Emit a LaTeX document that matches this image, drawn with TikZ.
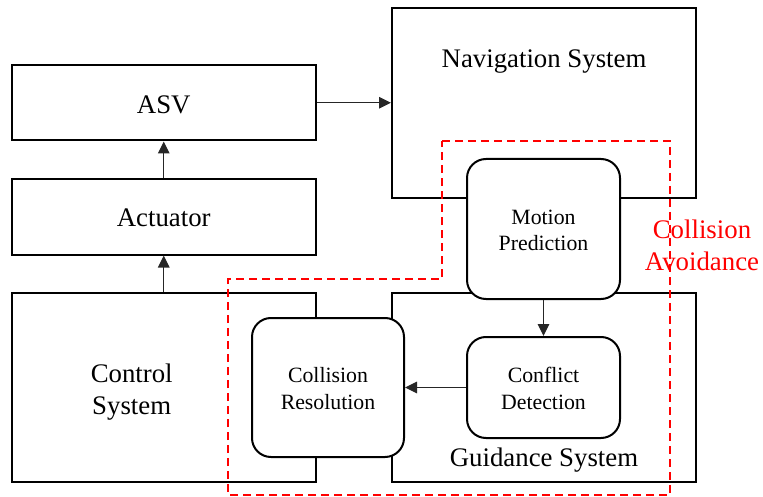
\documentclass[tikz,border=0pt]{standalone}
\usepackage{fontspec}
\setmainfont{Liberation Serif}
\usetikzlibrary{arrows.meta}
\begin{document}
\begin{tikzpicture}[x=1pt,y=-1pt,
  box/.style={draw=black,line width=2pt,fill=white,inner sep=0pt,rectangle},
  rbox/.style={box,rounded corners=19pt},
  big/.style={font=\fontsize{26.8}{32}\selectfont,align=center,inner sep=0pt},
  small/.style={font=\fontsize{21.8}{26.5}\selectfont,align=center,inner sep=0pt},
  conn/.style={draw=black!85,line width=1.2pt,-{Triangle[length=12pt,width=11.5pt]}},
  region/.style={draw=red,line width=2pt,dash pattern=on 8pt off 5pt}]
\useasboundingbox (0,0) rectangle (763,497);
% boxes
\node[box,minimum width=304.5pt,minimum height=75.5pt] (asv) at (163.75,102.75) {};
\node[box,minimum width=304.5pt,minimum height=75.5pt] (act) at (163.75,216.75) {};
\node[box,minimum width=304.5pt,minimum height=189pt] (ctrl) at (163.75,387.5) {};
\node[box,minimum width=304pt,minimum height=190pt] (nav) at (544,103) {};
\node[box,minimum width=304pt,minimum height=189pt] (guid) at (544,387.5) {};
\node[rbox,minimum width=153pt,minimum height=140pt] (mot) at (543.5,229) {};
\node[rbox,minimum width=153pt,minimum height=101pt] (conf) at (543.5,387.5) {};
\node[rbox,minimum width=152pt,minimum height=139pt] (res) at (328,387.5) {};
% texts
\node[big,anchor=base] (tasv) at (163.75,114) {ASV};
\node[big,anchor=base] (tact) at (163.75,227) {Actuator};
\node[big,anchor=base] (tctrl) at (131.7,414) {Control\\System};
\node[big,anchor=base] (tnav) at (544,67.5) {Navigation System};
\node[big,anchor=base] (tguid) at (544,466.5) {Guidance System};
\node[small,anchor=base] (tmot) at (543.5,251) {Motion\\Prediction};
\node[small,anchor=base] (tconf) at (543.5,409) {Conflict\\Detection};
\node[small,anchor=base] (tres) at (328,409) {Collision\\Resolution};
\node[big,anchor=base,text=red] (tca) at (702,270) {Collision\\Avoidance};
% connectors
\draw[conn] (asv.east) -- (asv.east -| nav.west);
\draw[conn] (act.north) -- (asv.south);
\draw[conn] (ctrl.north) -- (act.south);
\draw[conn] (mot.south) -- (conf.north);
\draw[conn] (conf.west) -- (res.east);
% collision avoidance region
\draw[region] (442,141) -- (670,141) -- (670,495) -- (228,495) -- (228,279) -- (442,279) -- cycle;
\end{tikzpicture}
\end{document}
